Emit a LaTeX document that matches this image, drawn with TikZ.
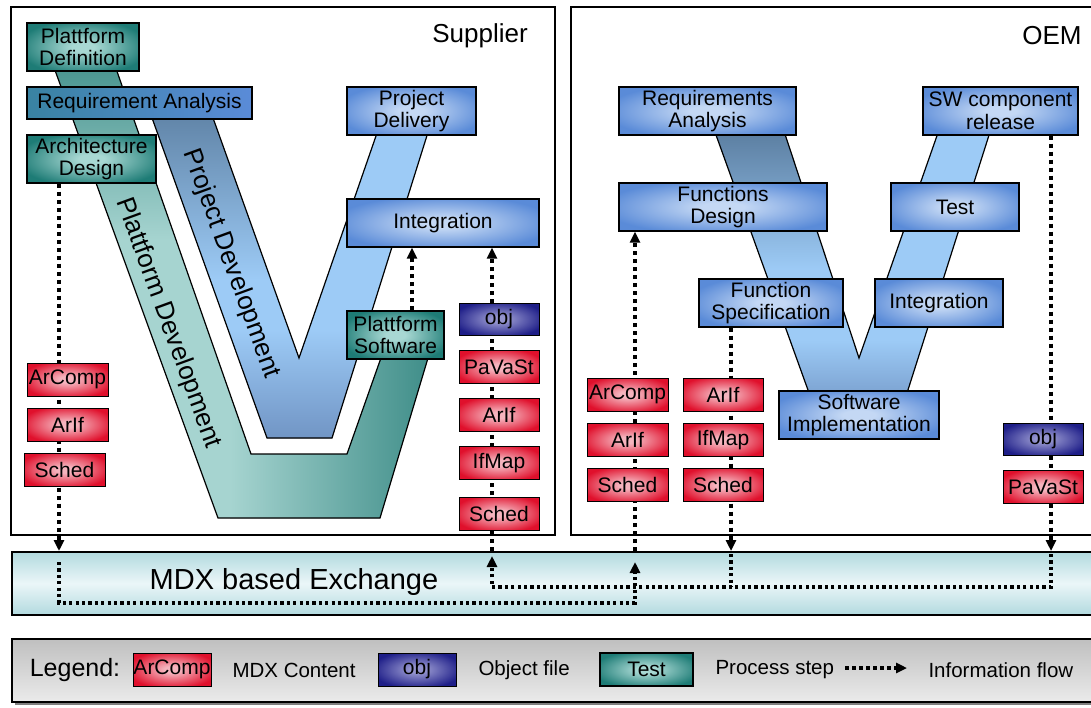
\documentclass[tikz,border=0pt]{standalone}
\usepackage{fontspec}
\setmainfont{Liberation Sans}
\usetikzlibrary{arrows.meta}
\pgfdeclarelayer{bands}
\pgfdeclarelayer{flows}
\pgfsetlayers{bands,flows,main}

\definecolor{tealout}{HTML}{1E7C76}
\definecolor{tealinn}{HTML}{A8D8D3}
\definecolor{blueout}{HTML}{5A8BD8}
\definecolor{blueinn}{HTML}{C4D8F4}
\definecolor{redout}{HTML}{E0102C}
\definecolor{redinn}{HTML}{F5B4BE}
\definecolor{navyout}{HTML}{1E1E88}
\definecolor{navyinn}{HTML}{9494CE}
\definecolor{bandtealdk}{HTML}{3A8A85}
\definecolor{bandteallt}{HTML}{A6D4D0}
\definecolor{bandbluelt}{HTML}{9DCBF6}
\definecolor{bandslate}{HTML}{56789A}
\definecolor{bandbluebt}{HTML}{7094C4}
\definecolor{exchedge}{HTML}{B2DADF}
\definecolor{exchmid}{HTML}{EBF6F8}

\pgfdeclareradialshading{blueglow}{\pgfpointorigin}{color(0bp)=(blueinn); color(5bp)=(blueinn); color(29bp)=(blueout); color(50bp)=(blueout)}
\pgfdeclareradialshading{tealglow}{\pgfpointorigin}{color(0bp)=(tealinn); color(5bp)=(tealinn); color(29bp)=(tealout); color(50bp)=(tealout)}
\pgfdeclareradialshading{redglow}{\pgfpointorigin}{color(0bp)=(redinn); color(5bp)=(redinn); color(29bp)=(redout); color(50bp)=(redout)}
\pgfdeclareradialshading{navyglow}{\pgfpointorigin}{color(0bp)=(navyinn); color(5bp)=(navyinn); color(29bp)=(navyout); color(50bp)=(navyout)}

\begin{document}
\begin{tikzpicture}[x=1pt,y=-1pt,line join=miter,
  box/.style={draw=black,line width=1.3pt,inner sep=0pt,align=center,
    font=\fontsize{21}{22.5}\selectfont},
  bluebox/.style={box,shade,shading=blueglow,minimum height=48},
  tealbox/.style={box,shade,shading=tealglow,minimum height=48},
  redbox/.style={box,line width=1pt,shade,shading=redglow,minimum width=81,minimum height=33},
  navybox/.style={box,line width=1pt,shade,shading=navyglow,minimum width=80,minimum height=32},
  bandedge/.style={draw=black,line width=1.2pt},
  bandtext/.style={rotate=-70,font=\fontsize{26}{28}\selectfont},
  flow/.style={line width=4.5pt,dash pattern=on 4pt off 4pt},
  flowin/.style={line width=3.2pt,dash pattern=on 3.2pt off 3.2pt},
  flowarr/.style={-{Triangle[length=11pt,width=10pt]}},
  side/.style={font=\fontsize{26}{30}\selectfont},
  legtext/.style={anchor=west,font=\fontsize{20.5}{24}\selectfont}]
\useasboundingbox (0,0) rectangle (1091,707);

% frames
\draw[line width=1.5pt] (11,7) rectangle (555,535);
\draw[line width=1.5pt] (571,7) rectangle (1100,535);
\node[side] (supplier) at (480,36) {Supplier};
\node[side] (oem) at (1052,36) {OEM};

% the V bands
\begin{pgfonlayer}{bands}
\begin{scope}
\clip (44,40) -- (106,40) -- (251,454) -- (347,454) -- (388,338) -- (434,338) -- (380,518) -- (218,518) -- cycle;
\fill[top color=bandtealdk,bottom color=bandteallt] (30,35) rectangle (450,240);
\fill[bandteallt] (30,240) rectangle (230,520);
\fill[left color=bandteallt,right color=bandtealdk] (230,240) rectangle (440,520);
\end{scope}
\draw[bandedge] (44,40) -- (106,40) -- (251,454) -- (347,454) -- (388,338) -- (434,338) -- (380,518) -- (218,518) -- cycle;

\begin{scope}
\clip (142,90) -- (203,90) -- (299,358) -- (385,110) -- (435,110) -- (332,438) -- (267,438) -- cycle;
\fill[bandbluelt] (130,80) rectangle (450,450);
\fill[top color=bandslate,bottom color=bandbluelt] (130,85) rectangle (310,280);
\fill[top color=bandbluelt,bottom color=bandbluebt] (130,330) rectangle (450,440);
\end{scope}
\draw[bandedge] (142,90) -- (203,90) -- (299,358) -- (385,110) -- (435,110) -- (332,438) -- (267,438) -- cycle;

\begin{scope}
\clip (707,110) -- (777,110) -- (859,358) -- (946,110) -- (997,110) -- (900,415) -- (817,415) -- cycle;
\fill[bandbluelt] (700,100) rectangle (1010,420);
\fill[top color=bandslate,bottom color=bandbluelt] (700,120) rectangle (850,270);
\fill[top color=bandbluelt,bottom color=bandbluebt] (700,340) rectangle (1010,415);
\end{scope}
\draw[bandedge] (707,110) -- (777,110) -- (859,358) -- (946,110) -- (997,110) -- (900,415) -- (817,415) -- cycle;

% exchange and legend bars
\node[draw=black,line width=1.8pt,top color=exchedge,bottom color=exchedge,middle color=exchmid,
  minimum width=1089,minimum height=63,anchor=north west,inner sep=0pt] (exch) at (11,551) {};
\fill[black!50] (15,642) rectangle (1100,705);
\node[draw=black,line width=1.5pt,top color=black!25,bottom color=black!8,
  minimum width=1089,minimum height=63,anchor=north west,inner sep=0pt] (legend) at (11,638) {};
\end{pgfonlayer}

\node[bandtext] (projdev) at (231,264) {Project Development};
\node[bandtext] (platdev) at (168,323) {Plattform Development};
\node[font=\fontsize{29}{32}\selectfont] (exchtext) at (294,582) {MDX based Exchange};

% supplier steps
\node[tealbox,minimum width=112] (platdef) at (83,47) {Plattform\\Definition};
\node[box,left color=tealout!55!blueout,right color=blueout,minimum width=225,minimum height=32] (reqan) at (139.5,103) {Requirement Analysis};
\node[tealbox,minimum width=129] (archdes) at (91.5,159) {Architecture\\Design};
\node[bluebox,minimum width=129] (projdel) at (411.5,111) {Project\\Delivery};
\node[bluebox,minimum width=192] (sinteg) at (443,223) {Integration};
\node[tealbox,minimum width=97] (platsw) at (395.5,335) {Plattform\\Software};

\node[redbox] (larcomp) at (67.5,379.5) {ArComp};
\node[redbox] (larif) at (67.5,424.5) {ArIf};
\node[redbox] (lsched) at (64.5,469.5) {Sched};

\node[navybox] (sobj) at (499,319) {obj};
\node[redbox,minimum width=80] (spavast) at (499,367) {PaVaSt};
\node[redbox,minimum width=80] (sarif) at (499,415) {ArIf};
\node[redbox,minimum width=80] (sifmap) at (499,463) {IfMap};
\node[redbox,minimum width=80] (ssched) at (499,513.5) {Sched};

% oem steps
\node[bluebox,minimum width=177] (oreq) at (707.5,111) {Requirements\\Analysis};
\node[bluebox,minimum width=155] (oswrel) at (1000.5,111) {SW component\\release};
\node[bluebox,minimum width=208] (ofdes) at (723,207) {Functions\\Design};
\node[bluebox,minimum width=128] (otest) at (955,207) {Test};
\node[bluebox,minimum width=144] (ofspec) at (771,303) {Function\\Specification};
\node[bluebox,minimum width=128] (ointeg) at (939,303) {Integration};
\node[bluebox,minimum width=160] (oswimp) at (859,415) {Software\\Implementation};

\node[redbox] (oarcomp) at (627.5,394.5) {ArComp};
\node[redbox] (oarif) at (627.5,440) {ArIf};
\node[redbox] (osched) at (627.5,485) {Sched};
\node[redbox,minimum width=80] (oarif2) at (723,394.5) {ArIf};
\node[redbox,minimum width=80] (oifmap) at (723,440) {IfMap};
\node[redbox,minimum width=80] (osched2) at (723,485) {Sched};
\node[navybox] (oobj) at (1043,439) {obj};
\node[redbox,minimum width=80] (opavast) at (1043,487) {PaVaSt};

% information flow
\coordinate (xA) at (59,0);
\coordinate (xB) at (412,0);
\coordinate (xC) at (492,0);
\coordinate (xD) at (635,0);
\coordinate (xE) at (731,0);
\coordinate (xF) at (1051,0);
\coordinate (eA1) at (59,562);
\coordinate (eA2) at (59,603);
\coordinate (eD2) at (635,603);
\coordinate (eD1) at (635,562);
\coordinate (eF1) at (1051,554);
\coordinate (eF2) at (1051,587);
\coordinate (eC2) at (492,587);
\coordinate (eC1) at (492,556);
\coordinate (eE1) at (731,554);
\coordinate (eE2) at (731,587);
\begin{pgfonlayer}{flows}
\draw[flow,flowarr] (archdes.south -| xA) -- (exch.north -| xA);
\draw[flow,flowarr] (platsw.north -| xB) -- (sinteg.south -| xB);
\draw[flow,flowarr] (exch.north -| xC) -- (sinteg.south -| xC);
\draw[flow,flowarr] (exch.north -| xD) -- (ofdes.south -| xD);
\draw[flow,flowarr] (ofspec.south -| xE) -- (exch.north -| xE);
\draw[flow,flowarr] (oswrel.south -| xF) -- (exch.north -| xF);
\draw[flowin,flowarr] (eA1) -- (eA2) -- (eD2) -- (eD1);
\draw[flowin,flowarr] (eF1) -- (eF2) -- (eC2) -- (eC1);
\draw[flowin] (eE1) -- (eE2);
\end{pgfonlayer}

% legend
\node[font=\fontsize{25}{28}\selectfont] (legtitle) at (75,670) {Legend:};
\node[redbox,minimum width=78] (legmdx) at (172,669.5) {ArComp};
\node[legtext] (legmdxtext) at (229,670) {MDX Content};
\node[navybox,minimum width=78,minimum height=33] (legobj) at (417,669.5) {obj};
\node[legtext] (legobjtext) at (475,670) {Object file};
\node[tealbox,minimum width=93,minimum height=33] (legstep) at (646.5,669.5) {Test};
\node[legtext] (legsteptext) at (712,670) {Process step};
\coordinate (legflowA) at (845,668);
\coordinate (legflowB) at (907,668);
\draw[flow,line width=3.5pt,dash pattern=on 3.5pt off 3.5pt,flowarr] (legflowA) -- (legflowB);
\node[legtext] (legflowtext) at (925,670) {Information flow};
\end{tikzpicture}
\end{document}
